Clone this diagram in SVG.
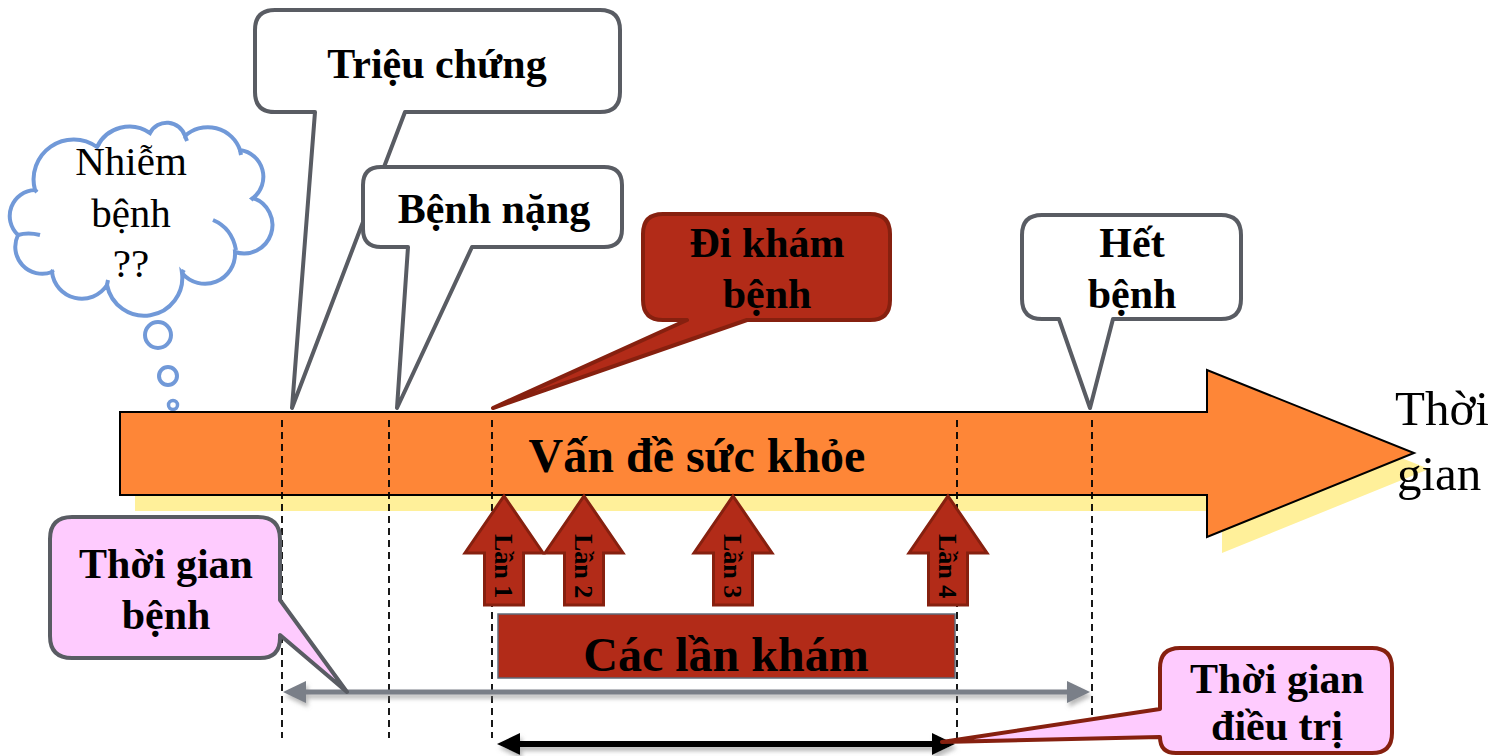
<svg xmlns="http://www.w3.org/2000/svg" width="1499" height="756" viewBox="0 0 1499 756">
<defs>
<style>
text{font-family:"Liberation Serif","Times New Roman",serif;fill:#000}
.b{font-weight:bold;font-size:42px;text-anchor:middle}
.call{fill:#fff;stroke:#595c63;stroke-width:4;stroke-linejoin:round}
.red{fill:#b22b18;stroke:#86200f;stroke-width:4;stroke-linejoin:round}
.pink{fill:#fecbfe;stroke:#595c63;stroke-width:4;stroke-linejoin:round}
.pinkr{fill:#fecbfe;stroke:#86200f;stroke-width:4;stroke-linejoin:round}
.dash{stroke:#000;stroke-width:1.8;stroke-dasharray:7 5;fill:none}
.cloud{fill:#fff;stroke:#7199d8;stroke-width:4}
.up{fill:#b22b18;stroke:#86200f;stroke-width:3;stroke-linejoin:miter}
.lan{font-weight:bold;font-size:26px}
</style>
<filter id="sh" x="-5%" y="-100%" width="110%" height="300%">
<feDropShadow dx="2" dy="4" stdDeviation="2" flood-color="#808080" flood-opacity="0.55"/>
</filter>
<path id="uparrow" d="M0,0 L39,57 H19.5 V109 H-19.5 V57 H-39 Z"/>
</defs>

<g id="cloud">
<path class="cloud" d="M35,190 A40 40 0 0 1 97,147 A36 36 0 0 1 150,133 A19 19 0 0 1 185,136 A34 34 0 0 1 240,150 A27 27 0 0 1 253,198 A28 28 0 0 1 235,252 A30 30 0 0 1 182,273 A38 38 0 0 1 107,285 A30 30 0 0 1 52,272 A27 27 0 0 1 18,235 A26 26 0 0 1 35,190 Z"/>
<path d="M213,220 Q232,228 236,250 M18,235 Q28,232 40,235 M35,190 L37,192 M97,147 L99,144 M185,136 L187,141 M240,150 L241,155 M253,198 L251,200 M182,273 L184,270 M107,285 L108,280 M52,272 L53,270" fill="none" stroke="#7199d8" stroke-width="4"/>
<circle cx="158" cy="335" r="13" fill="#fff" stroke="#7199d8" stroke-width="4"/>
<circle cx="168" cy="376" r="9" fill="#fff" stroke="#7199d8" stroke-width="4"/>
<circle cx="173" cy="405" r="4.5" fill="#fff" stroke="#7199d8" stroke-width="3.5"/>
<text x="131" y="175" font-size="41" text-anchor="middle">Nhiễm</text>
<text x="131" y="227" font-size="41" text-anchor="middle">bệnh</text>
<text x="131" y="277" font-size="41" text-anchor="middle">??</text>
</g>

<g id="timeline">
<path d="M135,428 H1222 V386 L1429,469 L1222,553 V511 H135 Z" fill="#fff09a"/>
<path d="M120,412 H1207 V370 L1414,453 L1207,537 V495 H120 Z" fill="#fe8637" stroke="#000" stroke-width="2"/>
<text x="697" y="472" font-size="48" font-weight="bold" text-anchor="middle">Vấn đề sức khỏe</text>
<text x="1395" y="425" font-size="49">Thời</text>
<text x="1397" y="490" font-size="49">gian</text>
</g>

<g id="connectors">
<line class="dash" x1="282" y1="420" x2="282" y2="738"/>
<line class="dash" x1="389" y1="420" x2="389" y2="738"/>
<line class="dash" x1="492" y1="420" x2="492" y2="738"/>
<line class="dash" x1="957" y1="420" x2="957" y2="738"/>
<line class="dash" x1="1092" y1="420" x2="1092" y2="738"/>
<g filter="url(#sh)">
<line x1="300" y1="692" x2="1072" y2="692" stroke="#7a7f88" stroke-width="5"/>
<polygon points="283,692 306,681 306,703" fill="#7a7f88"/>
<polygon points="1090,692 1067,681 1067,703" fill="#7a7f88"/>
</g>
<g filter="url(#sh)">
<line x1="515" y1="744" x2="937" y2="744" stroke="#000" stroke-width="6"/>
<polygon points="497,744 520,733 520,755" fill="#000"/>
<polygon points="955,744 932,733 932,755" fill="#000"/>
</g>
</g>

<g id="visits">
<use href="#uparrow" class="up" transform="translate(504,496)"/>
<use href="#uparrow" class="up" transform="translate(584,496)"/>
<use href="#uparrow" class="up" transform="translate(733,496)"/>
<use href="#uparrow" class="up" transform="translate(948,496)"/>
<text class="lan" transform="translate(495,534) rotate(90)">Lần 1</text>
<text class="lan" transform="translate(575,534) rotate(90)">Lần 2</text>
<text class="lan" transform="translate(724,534) rotate(90)">Lần 3</text>
<text class="lan" transform="translate(939,534) rotate(90)">Lần 4</text>
</g>

<g id="cac-lan-kham">
<rect x="498" y="614" width="457" height="64" fill="#b22b18" stroke="#5f6b7a" stroke-width="1.5"/>
<text x="726" y="671" font-size="48" font-weight="bold" text-anchor="middle">Các lần khám</text>
</g>

<g id="trieu-chung">
<path class="call" d="M275,10 H600 Q620,10 620,30 V92 Q620,112 600,112 H405 L292,408 L315,112 H275 Q255,112 255,92 V30 Q255,10 275,10 Z"/>
<text class="b" x="437" y="78">Triệu chứng</text>
</g>

<g id="benh-nang">
<path class="call" d="M381,167 H604 Q622,167 622,185 V229 Q622,247 604,247 H472 L397,408 L408,247 H381 Q363,247 363,229 V185 Q363,167 381,167 Z"/>
<text class="b" x="494" y="223">Bệnh nặng</text>
</g>

<g id="di-kham">
<path class="red" d="M663,214 H870 Q890,214 890,234 V300 Q890,320 870,320 H747 L493,408 L687,320 H663 Q643,320 643,300 V234 Q643,214 663,214 Z"/>
<text class="b" x="767" y="257">Đi khám</text>
<text class="b" x="767" y="308">bệnh</text>
</g>

<g id="het-benh">
<path class="call" d="M1042,215 H1221 Q1241,215 1241,235 V299 Q1241,319 1221,319 H1113 L1090,408 L1059,319 H1042 Q1022,319 1022,299 V235 Q1022,215 1042,215 Z"/>
<text class="b" x="1132" y="257">Hết</text>
<text class="b" x="1132" y="308">bệnh</text>
</g>

<g id="thoi-gian-benh">
<path class="pink" d="M72,517 H258 Q280,517 280,539 V600 L347,692 L280,635 V638 Q280,658 260,658 H72 Q50,658 50,636 V539 Q50,517 72,517 Z"/>
<text class="b" x="166" y="578">Thời gian</text>
<text class="b" x="166" y="629">bệnh</text>
</g>

<g id="thoi-gian-dieu-tri">
<path class="pinkr" d="M1180,648 H1372 Q1392,648 1392,668 V733 Q1392,753 1372,753 H1176 Q1160,753 1160,737 L942,742 L1160,709 V668 Q1160,648 1180,648 Z"/>
<text class="b" x="1277" y="693">Thời gian</text>
<text class="b" x="1277" y="740">điều trị</text>
</g>
</svg>
